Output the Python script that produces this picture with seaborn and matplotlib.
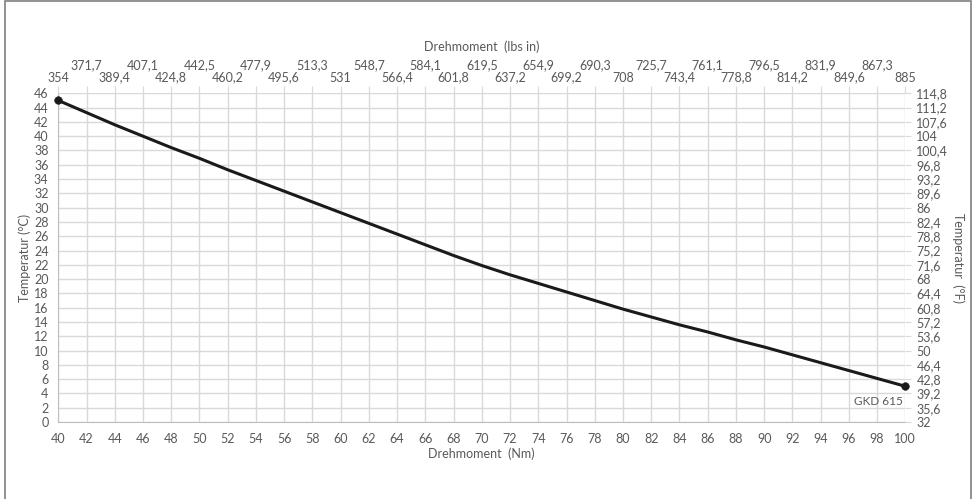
import matplotlib
matplotlib.use("Agg")
import matplotlib.pyplot as plt
from matplotlib.patches import Rectangle
import seaborn as sns
import pandas as pd

# values
torque_nm = [40, 42, 44, 46, 48, 50, 52, 54, 56, 58, 60, 62, 64, 66, 68, 70,
             72, 74, 76, 78, 80, 82, 84, 86, 88, 90, 92, 94, 96, 98, 100]
temp_c = [45, 43.3, 41.6, 40.0, 38.4, 36.9, 35.3, 33.8, 32.3, 30.8, 29.3, 27.8,
          26.3, 24.8, 23.3, 21.9, 20.6, 19.4, 18.2, 17.0, 15.8, 14.7, 13.6, 12.6,
          11.5, 10.5, 9.4, 8.3, 7.2, 6.1, 5]
curve_name = "GKD 615"

x_ticks = list(range(40, 101, 2))
y_ticks = list(range(0, 47, 2))
lbs_labels = ["354", "371,7", "389,4", "407,1", "424,8", "442,5", "460,2", "477,9",
              "495,6", "513,3", "531", "548,7", "566,4", "584,1", "601,8", "619,5",
              "637,2", "654,9", "699,2", "690,3", "708", "725,7", "743,4", "761,1",
              "778,8", "796,5", "814,2", "831,9", "849,6", "867,3", "885"]
f_labels = ["32", "35,6", "39,2", "42,8", "46,4", "50", "53,6", "57,2", "60,8", "64,4",
            "68", "71,6", "75,2", "78,8", "82,4", "86", "89,6", "93,2", "96,8", "100,4",
            "104", "107,6", "111,2", "114,8"]

df = pd.DataFrame({"Nm": torque_nm, "C": temp_c})
ends = df.iloc[[0, -1]]

sns.set_style("white")
plt.rcParams["font.family"] = ["Lato", "DejaVu Sans"]
txt = "#595959"
grid = "#d9d9d9"

fig = plt.figure(figsize=(9.78, 4.99), dpi=100)
ax = fig.add_axes([0.0596, 0.1543, 0.8661, 0.6587])

sns.lineplot(data=df, x="Nm", y="C", ax=ax, color="#1a1a1a", linewidth=2.2)
sns.scatterplot(data=ends, x="Nm", y="C", ax=ax, color="#1a1a1a", s=30,
                edgecolor="#1a1a1a", zorder=5, clip_on=False)
ax.annotate(curve_name, (ends["Nm"].iloc[-1], ends["C"].iloc[-1]),
            xytext=(-2, -7), textcoords="offset points", ha="right", va="top",
            fontsize=8.5, color=txt)

ax.set_xlim(40, 100)
ax.set_ylim(0, 46)
ax.set_xticks(x_ticks)
ax.set_yticks(y_ticks)
ax.tick_params(axis="x", labelsize=9, colors=txt, length=0, pad=8)
ax.tick_params(axis="y", labelsize=9, colors=txt, length=0, pad=7)
ax.grid(True, color=grid, linewidth=1)
for s in ["top", "right"]:
    ax.spines[s].set_visible(False)
for s in ["left", "bottom"]:
    ax.spines[s].set_color("#bfbfbf")
ax.set_xlabel("Drehmoment  (Nm)", fontsize=9, color=txt, labelpad=2)
ax.set_ylabel("Temperatur (°C)", fontsize=9, color=txt, labelpad=2)

# right axis in °F
axr = ax.twinx()
axr.set_ylim(0, 46)
axr.set_yticks(y_ticks)
axr.set_yticklabels(f_labels)
axr.tick_params(axis="y", labelsize=9, colors=txt, length=4, width=0.8,
                pad=4, color=grid)
axr.set_ylabel("Temperatur  (°F)", fontsize=9, color=txt, rotation=-90, labelpad=12)

# top axis in lbs in, staggered labels
ax_t1 = ax.twiny()
ax_t1.set_xlim(40, 100)
ax_t1.set_xticks(x_ticks[::2])
ax_t1.set_xticklabels(lbs_labels[::2])
ax_t1.tick_params(axis="x", labelsize=9, colors=txt, length=5, width=0.8,
                  pad=2, color=grid)
ax_t2 = ax.twiny()
ax_t2.set_xlim(40, 100)
ax_t2.set_xticks(x_ticks[1::2])
ax_t2.set_xticklabels(lbs_labels[1::2])
ax_t2.tick_params(axis="x", labelsize=9, colors=txt, length=5, width=0.8,
                  pad=11, color=grid)
ax_t1.set_xlabel("Drehmoment  (lbs in)", fontsize=9, color=txt, labelpad=15)

for a in [axr, ax_t1, ax_t2]:
    for s in a.spines.values():
        s.set_visible(False)

fig.patches.append(Rectangle((0.005, -0.01), 0.988, 1.007, transform=fig.transFigure,
                             fill=False, edgecolor="#7f7f7f", linewidth=1.2))

fig.savefig("out.png", dpi=100, facecolor="white")
